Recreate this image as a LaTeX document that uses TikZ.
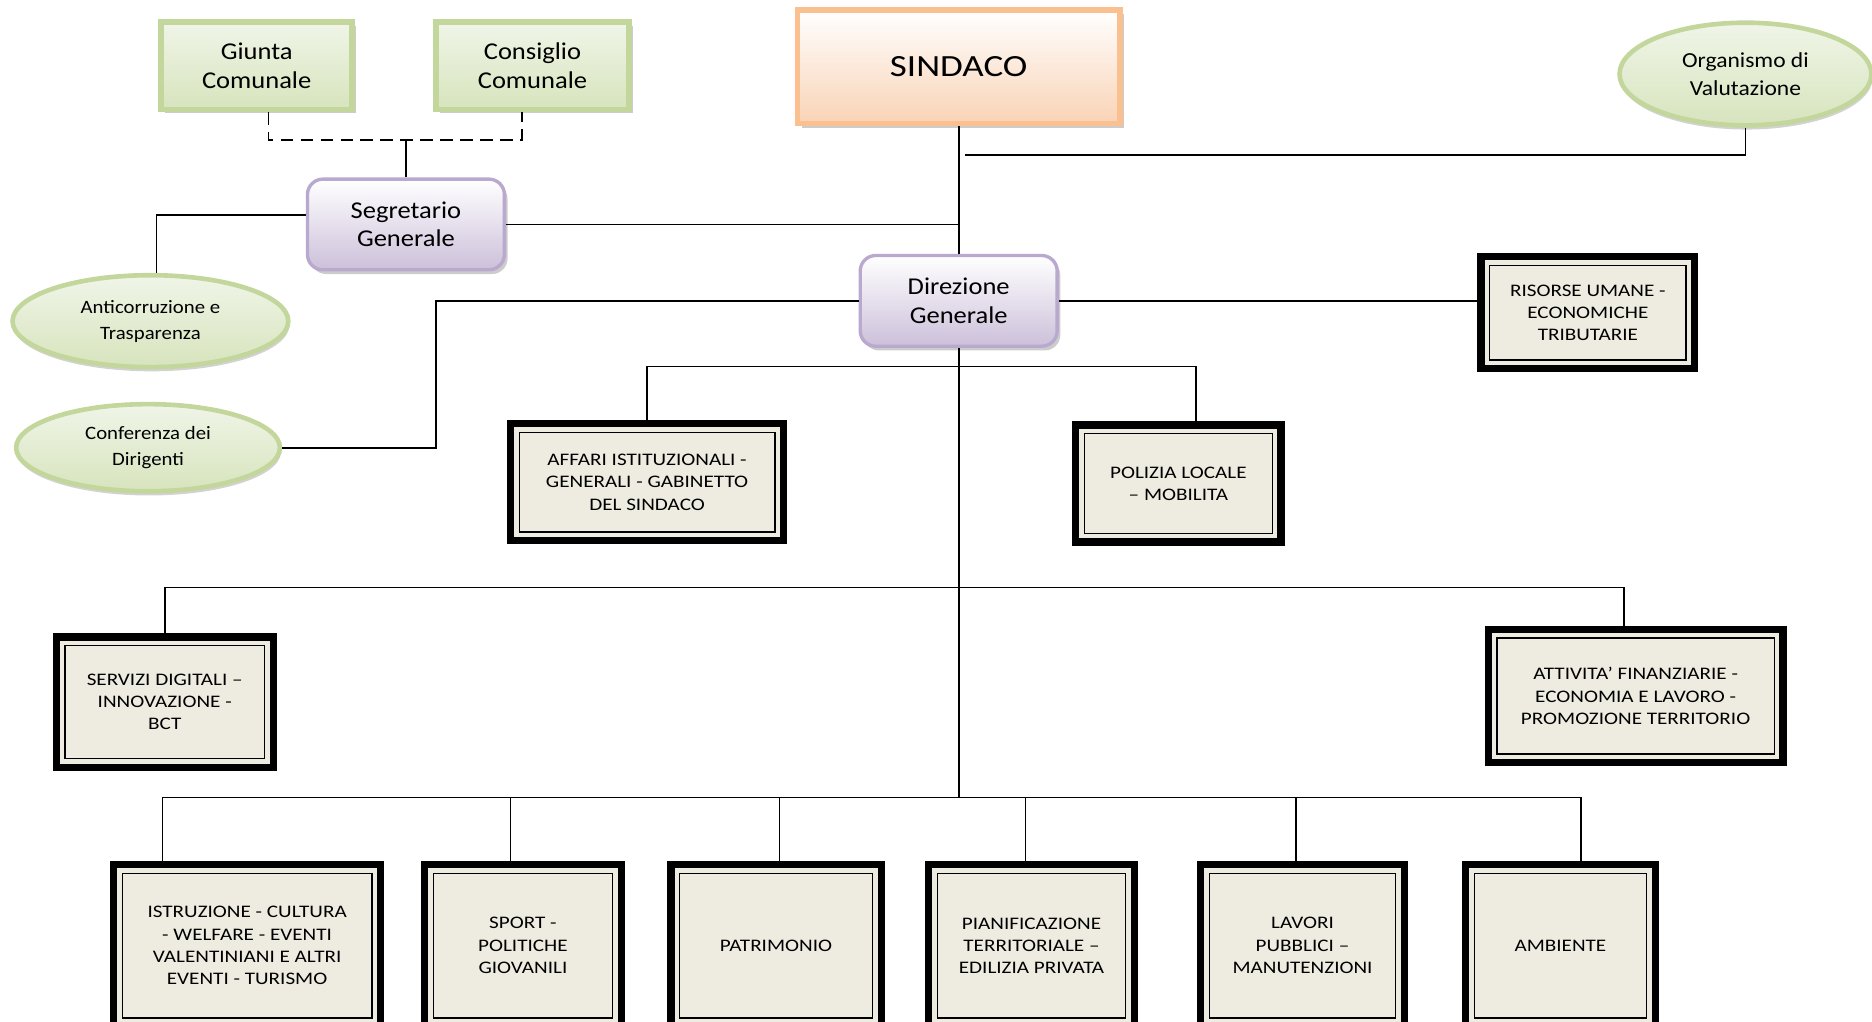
\documentclass[tikz,border=0pt]{standalone}
\usepackage{fontspec}
\setmainfont{Carlito}[FakeStretch=1.1]
\newfontfamily\largo{Carlito}[FakeStretch=1.2]
\usetikzlibrary{shapes.geometric, shadows}

\definecolor{beige}{HTML}{EEECE1}
\definecolor{verdebordo}{HTML}{C3D69B}
\definecolor{verdechiaro}{HTML}{F0F5E8}
\definecolor{verdescuro}{HTML}{D7E4BD}
\definecolor{arancio}{HTML}{FAC090}
\definecolor{aranciochiaro}{HTML}{F9D3B6}
\definecolor{lilla}{HTML}{B9A9CE}
\definecolor{lillachiaro}{HTML}{CCC0DA}

\begin{document}
\begin{tikzpicture}[x=0.02cm, y=-0.02cm, line width=0.8pt,
    verde/.style={draw=verdebordo, line width=2.6pt, top color=verdechiaro, bottom color=verdescuro,
      drop shadow={shadow xshift=2pt, shadow yshift=-2pt, fill=black!40}, align=center,
      inner sep=0pt, font=\fontsize{11.5}{13.5}\selectfont},
    ovale/.style={ellipse, draw=verdebordo, line width=2.2pt, top color=verdechiaro, bottom color=verdescuro,
      drop shadow={shadow xshift=0.5pt, shadow yshift=-2pt, fill=black!35}, align=center,
      inner sep=0pt, font=\fontsize{9}{12.4}\selectfont},
    viola/.style={draw=lilla, line width=1.6pt, rounded corners=0.26cm, top color=white, bottom color=lillachiaro,
      drop shadow={shadow xshift=1.5pt, shadow yshift=-2pt, fill=black!40}, align=center,
      inner sep=0pt, minimum width=3.3cm, minimum height=1.52cm, font=\fontsize{11.5}{13.5}\selectfont},
    ufficio/.style={draw, line width=3.4pt, fill=beige, align=center, inner sep=0pt,
      font=\largo\fontsize{8.4}{10.6}\selectfont,
      path picture={\draw[line width=0.6pt] ([shift={(4.2pt,-4.2pt)}]path picture bounding box.north west)
        rectangle ([shift={(-4.2pt,4.2pt)}]path picture bounding box.south east);}}]
  \useasboundingbox (0,0) rectangle (1568,856);

  % organi
  \node[verde, minimum width=3.2cm, minimum height=1.46cm] (giunta) at (215,55) {Giunta\\Comunale};
  \node[verde, minimum width=3.24cm, minimum height=1.46cm] (consiglio) at (446,55) {Consiglio\\Comunale};
  \node[draw=arancio, line width=2.8pt, top color=white, bottom color=aranciochiaro,
    drop shadow={shadow xshift=2pt, shadow yshift=-2pt, fill=black!40},
    minimum width=5.4cm, minimum height=1.9cm, font=\largo\fontsize{14.7}{16}\selectfont] (sindaco) at (803,56) {SINDACO};
  \node[ovale, minimum width=4.22cm, minimum height=1.72cm, font=\fontsize{10.2}{13.5}\selectfont] (organismo) at (1462,62) {Organismo di\\Valutazione};
  \node[viola] (segretario) at (340,188) {Segretario\\Generale};
  \node[viola] (direzione) at (803,252) {Direzione\\Generale};
  \node[ovale, minimum width=4.62cm, minimum height=1.54cm] (anticorruzione) at (126,269) {Anticorruzione e\\Trasparenza};
  \node[ovale, minimum width=4.42cm, minimum height=1.46cm] (conferenza) at (124,375) {Conferenza dei\\Dirigenti};

  % settori
  \node[ufficio, minimum width=3.58cm, minimum height=1.88cm] (risorse) at (1330,262) {RISORSE UMANE -\\ECONOMICHE\\TRIBUTARIE};
  \node[ufficio, minimum width=4.58cm, minimum height=1.96cm] (affari) at (542,404) {AFFARI ISTITUZIONALI -\\GENERALI - GABINETTO\\DEL SINDACO};
  \node[ufficio, minimum width=3.44cm, minimum height=1.96cm] (polizia) at (987,405) {POLIZIA LOCALE\\– MOBILITA};
  \node[ufficio, minimum width=3.64cm, minimum height=2.18cm] (servizi) at (138,588) {SERVIZI DIGITALI –\\INNOVAZIONE -\\BCT};
  \node[ufficio, minimum width=4.94cm, minimum height=2.24cm] (attivita) at (1370,583) {ATTIVITA’ FINANZIARIE -\\ECONOMIA E LAVORO -\\PROMOZIONE TERRITORIO};
  \node[ufficio, minimum width=4.48cm, minimum height=2.72cm] (istruzione) at (207,792) {ISTRUZIONE - CULTURA\\- WELFARE - EVENTI\\VALENTINIANI E ALTRI\\EVENTI - TURISMO};
  \node[ufficio, minimum width=3.3cm, minimum height=2.72cm] (sport) at (438,792) {SPORT -\\POLITICHE\\GIOVANILI};
  \node[ufficio, minimum width=3.52cm, minimum height=2.72cm] (patrimonio) at (650,792) {PATRIMONIO};
  \node[ufficio, minimum width=3.44cm, minimum height=2.72cm] (pianificazione) at (864,792) {PIANIFICAZIONE\\TERRITORIALE –\\EDILIZIA PRIVATA};
  \node[ufficio, minimum width=3.42cm, minimum height=2.72cm] (lavori) at (1091,792) {LAVORI\\PUBBLICI –\\MANUTENZIONI};
  \node[ufficio, minimum width=3.18cm, minimum height=2.72cm] (ambiente) at (1307,792) {AMBIENTE};

  \coordinate (cdash) at (340,117);
  \coordinate (ovend) at (808,130);
  \coordinate (cgomito) at (365,375);
  \coordinate (bus1) at (803,307);
  \coordinate (bus2) at (803,492);
  \coordinate (bus3) at (803,668);

  % collegamenti
  \draw[dash pattern=on 6pt off 3.5pt] ([xshift=0.2cm]giunta.south) |- (cdash) -| ([xshift=-0.18cm]consiglio.south);
  \draw (cdash) -- (segretario.north);
  \draw (sindaco.south) -- (direzione.north);
  \draw (direzione.south) -- (bus3);
  \draw (organismo.south) |- (ovend);
  \draw (segretario.east) -- (segretario.east -| sindaco.south);
  \draw ([yshift=0.16cm]segretario.west) -| ([xshift=0.1cm]anticorruzione.north);
  \draw (conferenza.east) -- (cgomito) |- (direzione.west);
  \draw (direzione.east) -- (direzione.east -| risorse.west);
  \draw (affari.north) |- (bus1) -| ([xshift=0.3cm]polizia.north);
  \draw (servizi.north) |- (bus2) -| ([xshift=-0.2cm]attivita.north);
  \foreach \n/\dx in {istruzione/-1.42, sport/-0.21, patrimonio/0.06, pianificazione/-0.1, lavori/-0.11, ambiente/0.35}
    \draw ([xshift=\dx cm]\n.north) |- (bus3);
\end{tikzpicture}
\end{document}
